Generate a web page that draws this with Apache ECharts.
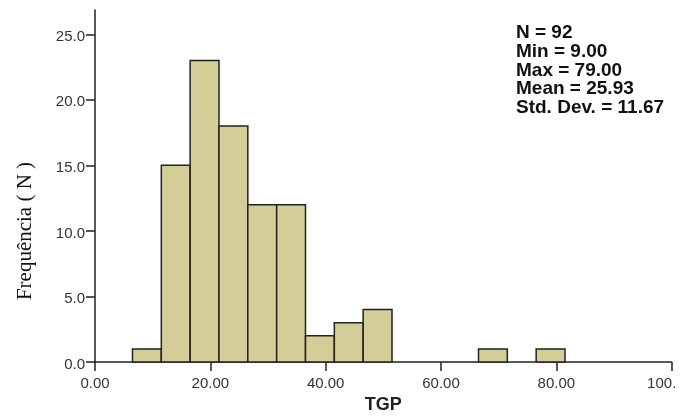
<!DOCTYPE html>
<html>
<head>
<meta charset="utf-8">
<script src="https://cdn.jsdelivr.net/npm/echarts@6/dist/echarts.min.js"></script>
<style>
html,body{margin:0;padding:0;background:#fff;}
#chart{width:690px;height:419px;}
</style>
</head>
<body>
<div id="chart"></div>
<script>
// Histogram bins (TGP) and frequencies
var binLow  = [6.5, 11.5, 16.5, 21.5, 26.5, 31.5, 36.5, 41.5, 46.5, 66.5, 76.5];
var binHigh = [11.5, 16.5, 21.5, 26.5, 31.5, 36.5, 41.5, 46.5, 51.5, 71.5, 81.5];
var counts  = [1, 15, 23, 18, 12, 12, 2, 3, 4, 1, 1];

var yTicks = [0, 5, 10, 15, 20, 25];
var xTicks = [0, 20, 40, 60, 80, 100];
var xTickLabels = ['0.00', '20.00', '40.00', '60.00', '80.00', '100.'];

var statsLines = ['N = 92', 'Min = 9.00', 'Max = 79.00', 'Mean = 25.93', 'Std. Dev. = 11.67'];

var xTitle = 'TGP';
var yTitle = 'Frequência ( N )';

var histData = binLow.map(function (lo, i) { return [lo, binHigh[i], counts[i]]; });

var chart = echarts.init(document.getElementById('chart'), null, {renderer: 'canvas'});

var axisColor = '#222';
var labelColor = '#333';

chart.setOption({
  animation: false,
  backgroundColor: '#fff',
  grid: {left: 95, right: 18.3, top: 10, bottom: 55.7, containLabel: false},
  xAxis: {
    type: 'value',
    min: 0, max: 100, interval: 20,
    name: xTitle,
    nameLocation: 'middle',
    nameGap: 34,
    nameTextStyle: {fontFamily: 'Liberation Sans', fontSize: 18, fontWeight: 'bold', color: '#222'},
    axisLine: {show: true, onZero: false, lineStyle: {color: axisColor, width: 1.5}},
    axisTick: {show: true, length: 9, lineStyle: {color: axisColor, width: 1.5}, customValues: xTicks},
    axisLabel: {
      customValues: xTicks,
      margin: 14,
      fontFamily: 'Liberation Sans', fontSize: 15, color: labelColor,
      formatter: function (v) {
        var idx = xTicks.indexOf(v);
        var t = idx >= 0 ? xTickLabels[idx] : '';
        if (idx === xTicks.length - 1) return '{last|' + t + '}';
        return t;
      },
      rich: {
        last: {fontFamily: 'Liberation Sans', fontSize: 15, color: labelColor, padding: [0, 20, 0, 0]}
      }
    },
    splitLine: {show: false}
  },
  yAxis: {
    type: 'value',
    min: 0, max: 26.85,
    name: yTitle,
    nameLocation: 'middle',
    nameRotate: 90,
    nameGap: 59,
    nameTextStyle: {fontFamily: 'Liberation Serif', fontSize: 21, color: '#111', padding: [0, 90, 0, 0]},
    axisLine: {show: true, lineStyle: {color: axisColor, width: 1.5}},
    axisTick: {show: true, length: 9, lineStyle: {color: axisColor, width: 1.5}, customValues: yTicks},
    axisLabel: {
      customValues: yTicks,
      margin: 10,
      fontFamily: 'Liberation Sans', fontSize: 15, color: labelColor,
      formatter: function (v) { return '{t|' + v.toFixed(1) + '}'; },
      rich: {
        t: {fontFamily: 'Liberation Sans', fontSize: 15, color: labelColor, padding: [5, 0, 0, 0]}
      }
    },
    splitLine: {show: false}
  },
  series: [{
    type: 'custom',
    data: histData,
    encode: {x: [0, 1], y: 2},
    renderItem: function (params, api) {
      var p1 = api.coord([api.value(0), api.value(2)]);
      var p2 = api.coord([api.value(1), 0]);
      return {
        type: 'rect',
        shape: {x: p1[0], y: p1[1], width: p2[0] - p1[0], height: p2[1] - p1[1]},
        style: {fill: '#d3ce98', stroke: '#222', lineWidth: 1.5}
      };
    }
  }],
  graphic: [{
    type: 'text',
    left: 516,
    top: 23.3,
    style: {
      text: statsLines.join('\n'),
      fontFamily: 'Liberation Sans',
      fontSize: 19,
      fontWeight: 'bold',
      lineHeight: 18.8,
      fill: '#111'
    }
  }]
});
</script>
</body>
</html>
